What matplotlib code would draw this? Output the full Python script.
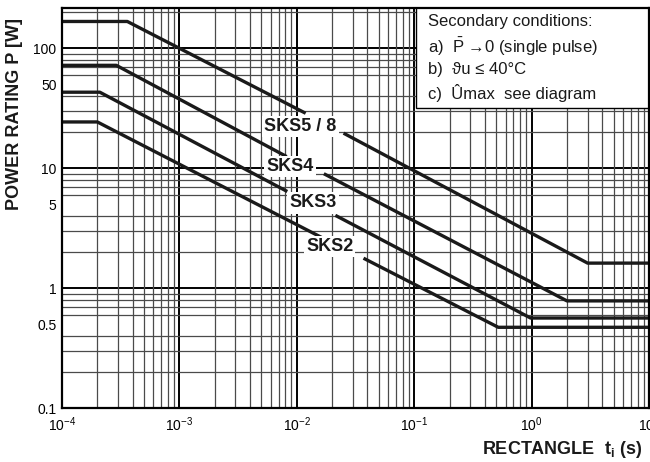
import numpy as np
import matplotlib
matplotlib.use("Agg")
import matplotlib.pyplot as plt
from matplotlib.ticker import FixedLocator, FixedFormatter, LogLocator, NullFormatter
from matplotlib.patches import Rectangle

plt.rcParams['font.family'] = ['Liberation Sans', 'DejaVu Sans']
plt.rcParams['mathtext.fontset'] = 'custom'
plt.rcParams['mathtext.rm'] = 'Liberation Sans'
plt.rcParams['mathtext.it'] = 'Liberation Sans:italic'
plt.rcParams['mathtext.bf'] = 'Liberation Sans:bold'

# curves: t in s, P in W (nan = break for the label)
names = ["SKS5 / 8", "SKS4", "SKS3", "SKS2"]
t_sks5 = [1e-4, 3.6e-4, 0.0119, np.nan, 0.025, 3.0, 10]
p_sks5 = [167, 167, 28.7, np.nan, 19.6, 1.62, 1.62]
t_sks4 = [1e-4, 2.9e-4, 0.0082, np.nan, 0.017, 2.0, 10]
p_sks4 = [72, 72, 12.5, np.nan, 9.0, 0.785, 0.785]
t_sks3 = [1e-4, 2.1e-4, 0.0083, np.nan, 0.0213, 0.98, 10]
p_sks3 = [43, 43, 6.4, np.nan, 4.05, 0.565, 0.565]
t_sks2 = [1e-4, 2.0e-4, 0.0169, np.nan, 0.037, 0.52, 10]
p_sks2 = [24.3, 24.3, 2.6, np.nan, 1.78, 0.473, 0.473]

# label anchors (centre of text)
label_t = [0.0107, 0.00873, 0.01368, 0.01905]
label_p = [22.3, 10.4, 5.14, 2.22]

yticks = [0.1, 0.5, 1, 5, 10, 50, 100]
ytick_labels = ["0.1", "0.5", "1", "5", "10", "50", "100"]
decades_x = [1e-4, 1e-3, 1e-2, 1e-1, 1, 10]
decades_y = [0.1, 1, 10, 100]

conditions = ["Secondary conditions:",
              r"a)  $\bar{\mathrm{P}}$ →0 (single pulse)",
              "b)  ϑu ≤ 40°C",
              "c)  Ûmax  see diagram"]

fig = plt.figure(figsize=(6.5, 4.62), dpi=100)
ax = fig.add_axes([62/650, 1-408.3/462, 587/650, 400/462])
ax.set_xscale('log')
ax.set_yscale('log')
ax.set_xlim(1e-4, 10)
ax.set_ylim(0.1, 215)

# grid: thin minor lines, heavier decade lines
ax.xaxis.set_minor_locator(LogLocator(base=10, subs=np.arange(2, 10)))
ax.xaxis.set_minor_formatter(NullFormatter())
ax.yaxis.set_minor_locator(LogLocator(base=10, subs=np.arange(2, 10)))
ax.yaxis.set_minor_formatter(NullFormatter())
ax.grid(which='minor', color='#4a4a4a', lw=0.9)
for v in decades_x:
    ax.axvline(v, color='black', lw=1.4, zorder=1)
for v in decades_y:
    ax.axhline(v, color='black', lw=1.4, zorder=1)

ax.yaxis.set_major_locator(FixedLocator(yticks))
ax.yaxis.set_major_formatter(FixedFormatter(ytick_labels))
ax.tick_params(which='both', length=0, labelsize=10)
ax.tick_params(axis='y', pad=4)
ax.tick_params(axis='x', pad=5)
for s in ax.spines.values():
    s.set_linewidth(1.6)
    s.set_zorder(6)

curves = [(t_sks5, p_sks5), (t_sks4, p_sks4), (t_sks3, p_sks3), (t_sks2, p_sks2)]
for t, p in curves:
    ax.plot(t, p, color='#1a1a1a', lw=2.4, solid_capstyle='butt', zorder=3)

for name, lt, lp in zip(names, label_t, label_p):
    ax.text(lt, lp, name, ha='center', va='center', fontsize=13, fontweight='bold',
            color='#1a1a1a', zorder=5,
            bbox=dict(boxstyle='square,pad=0.12', fc='white', ec='none'))

# secondary conditions box
ax.add_patch(Rectangle((0.603, 0.75), 0.45, 0.3, transform=ax.transAxes,
                       fc='white', ec='black', lw=1.0, zorder=4))
box_y = [0.9665, 0.904, 0.8458, 0.7875]
for line, yy in zip(conditions, box_y):
    ax.text(0.6235, yy, line, transform=ax.transAxes, ha='left', va='center',
            fontsize=12, color='#1a1a1a', zorder=5)

fig.text(15/650, 1-114/462, "POWER RATING P [W]", rotation=90, ha='center', va='center',
         fontsize=13, fontweight='bold', color='#1a1a1a')
fig.text(642/650, 1-450/462, r"RECTANGLE  $\mathbf{t_i}$ (s)", ha='right', va='center',
         fontsize=13, fontweight='bold', color='#1a1a1a')

fig.savefig("out.png", dpi=100)
